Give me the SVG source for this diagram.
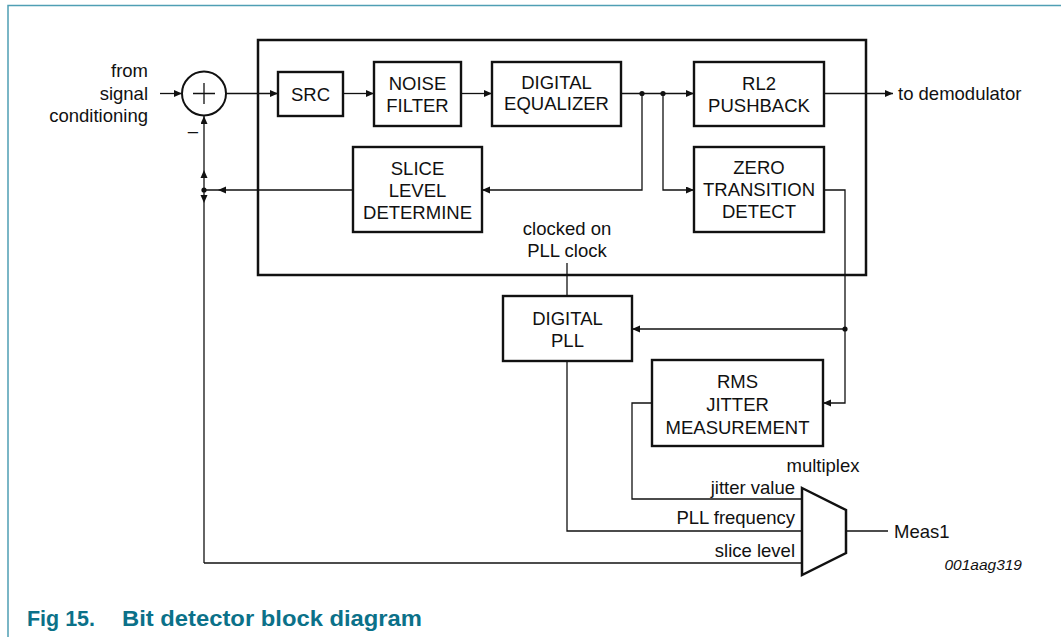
<svg xmlns="http://www.w3.org/2000/svg" width="1061" height="637" viewBox="0 0 1061 637">
<style>
text{font-family:"Liberation Sans",Arial,Helvetica,sans-serif;font-size:18.5px;fill:#111}
.c{text-anchor:middle}
.e{text-anchor:end}
.box{fill:#fff;stroke:#111;stroke-width:2.4}
.ln{fill:none;stroke:#111;stroke-width:1.3}
.ar{marker-end:url(#ah)}
.dot{fill:#111}
.cap{font-weight:bold;font-size:22px;fill:#0b7189}
</style>
<defs>
<marker id="ah" markerUnits="userSpaceOnUse" markerWidth="9" markerHeight="8" refX="8" refY="3.5" orient="auto">
<path d="M0,0 L8,3.5 L0,7 z" fill="#111"/>
</marker>
</defs>
<rect width="1061" height="637" fill="#fff"/>
<g id="frame">
<path d="M8,637 V5.5 H1061" fill="none" stroke="#4f9fb4" stroke-width="1.5"/>
</g>
<g id="bit-detector">
<rect x="258" y="40" width="608" height="235" fill="none" stroke="#111" stroke-width="2.5"/>
</g>
<g id="connectors">
<path class="ln ar" d="M160,93.5 H182"/>
<path class="ln ar" d="M226,93.5 H278"/>
<path class="ln ar" d="M343,93.5 H374"/>
<path class="ln ar" d="M461,93.5 H492"/>
<path class="ln ar" d="M621,93.5 H694"/>
<path class="ln ar" d="M642,93.5 V190 H482"/>
<path class="ln ar" d="M663,93.5 V190 H694"/>
<path class="ln ar" d="M824,93.5 H893"/>
<path class="ln ar" d="M824,190 H845 V403 H823"/>
<path class="ln ar" d="M845,329 H632"/>
<path class="ln" d="M353,190 H204"/>
<polygon class="dot" points="218,190 226,186.5 226,193.5"/>
<path class="ln ar" d="M204,563 V116"/>
<polygon class="dot" points="204,170 200.5,178 207.5,178"/>
<polygon class="dot" points="204,203 200.5,195 207.5,195"/>
<path class="ln" d="M204,563 H802"/>
<path class="ln" d="M567,263 V296"/>
<path class="ln" d="M567,361 V531 H802"/>
<path class="ln" d="M652,403 H632 V499 H802"/>
<path class="ln" d="M846,531 H888"/>
<circle class="dot" cx="642" cy="93.5" r="2.6"/>
<circle class="dot" cx="663" cy="93.5" r="2.6"/>
<circle class="dot" cx="204" cy="190" r="2.6"/>
<circle class="dot" cx="845" cy="329" r="2.6"/>
</g>
<g id="sum">
<circle cx="204" cy="93.5" r="22" fill="#fff" stroke="#111" stroke-width="2"/>
<path d="M193,93.5 H215 M204,83 V104" stroke="#111" stroke-width="1.3"/>
<text x="193" y="137" class="c">–</text>
</g>
<g id="src"><rect class="box" x="278" y="72" width="65" height="44"/><text x="310.5" y="100.5" class="c">SRC</text></g>
<g id="noise-filter"><rect class="box" x="374" y="62" width="87" height="64"/><text x="417.5" y="90" class="c">NOISE</text><text x="417.5" y="112" class="c">FILTER</text></g>
<g id="digital-equalizer"><rect class="box" x="492" y="62" width="129" height="64"/><text x="556.5" y="88.5" class="c">DIGITAL</text><text x="556.5" y="110" class="c">EQUALIZER</text></g>
<g id="rl2-pushback"><rect class="box" x="694" y="62" width="130" height="64"/><text x="759" y="90" class="c">RL2</text><text x="759" y="112" class="c">PUSHBACK</text></g>
<g id="zero-transition-detect"><rect class="box" x="694" y="147" width="130" height="85"/><text x="759" y="173.5" class="c">ZERO</text><text x="759" y="195.5" class="c">TRANSITION</text><text x="759" y="217.5" class="c">DETECT</text></g>
<g id="slice-level-determine"><rect class="box" x="353" y="147" width="129" height="85"/><text x="417.5" y="175" class="c">SLICE</text><text x="417.5" y="197" class="c">LEVEL</text><text x="417.5" y="219" class="c">DETERMINE</text></g>
<g id="digital-pll"><rect class="box" x="503" y="296" width="129" height="65"/><text x="567.5" y="324.5" class="c">DIGITAL</text><text x="567.5" y="346.5" class="c">PLL</text></g>
<g id="rms-jitter"><rect class="box" x="652" y="360" width="171" height="86"/><text x="737.5" y="388" class="c">RMS</text><text x="737.5" y="411" class="c">JITTER</text><text x="737.5" y="434" class="c">MEASUREMENT</text></g>
<g id="mux"><polygon points="802,488 846,510 846,553 802,575" fill="#fff" stroke="#111" stroke-width="2.5"/><text x="859.5" y="472" class="e">multiplex</text></g>
<g id="labels">
<text x="148" y="77" class="e">from</text>
<text x="148" y="99.5" class="e">signal</text>
<text x="148" y="122" class="e">conditioning</text>
<text x="898" y="100">to demodulator</text>
<text x="567" y="235" class="c">clocked on</text>
<text x="567" y="257" class="c">PLL clock</text>
<text x="795" y="493.5" class="e">jitter value</text>
<text x="795" y="523.5" class="e">PLL frequency</text>
<text x="795" y="556.5" class="e">slice level</text>
<text x="894" y="537.5">Meas1</text>
<text x="1022" y="569.5" class="e" style="font-style:italic;font-size:15.5px">001aag319</text>
</g>
<g id="caption">
<text x="27" y="626" class="cap" textLength="68" lengthAdjust="spacingAndGlyphs">Fig 15.</text>
<text x="122" y="626" class="cap" textLength="300" lengthAdjust="spacingAndGlyphs">Bit detector block diagram</text>
</g>
</svg>
